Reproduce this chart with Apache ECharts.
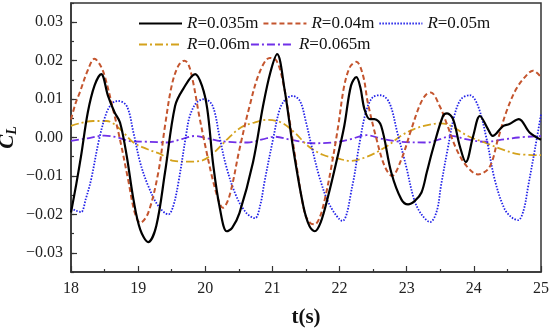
<!DOCTYPE html>
<html>
<head>
<meta charset="utf-8">
<script src="https://cdn.jsdelivr.net/npm/echarts@6/dist/echarts.min.js"></script>
<style>html,body{margin:0;padding:0;background:#fff;}#c{width:550px;height:332px;}</style>
</head>
<body>
<div id="c"></div>
<script>
// ---- data ----
var seriesNames = ['R=0.035m', 'R=0.04m', 'R=0.05m', 'R=0.06m', 'R=0.065m'];
var xTicks = [18, 19, 20, 21, 22, 23, 24, 25];
var yTicks = [-0.03, -0.02, -0.01, 0, 0.01, 0.02, 0.03];

var t035 = [18.00,18.08,18.15,18.25,18.35,18.45,18.55,18.65,18.73,18.83,18.93,19.03,19.15,19.27,19.40,19.55,19.67,19.85,19.95,20.03,20.12,20.22,20.32,20.40,20.51,20.71,20.86,20.97,21.07,21.18,21.31,21.46,21.55,21.63,21.72,21.83,21.95,22.07,22.17,22.25,22.31,22.37,22.45,22.52,22.62,22.77,22.92,23.02,23.12,23.22,23.30,23.39,23.54,23.60,23.69,23.79,23.88,23.99,24.09,24.21,24.28,24.43,24.53,24.67,24.83,25.00];
var cl035 = [-0.0195,-0.0120,-0.0048,0.0065,0.0135,0.0165,0.0109,0.0065,0.0039,-0.0048,-0.0161,-0.0239,-0.0272,-0.0230,-0.0091,0.0082,0.0126,0.0165,0.0135,0.0074,-0.0074,-0.0187,-0.0244,-0.0235,-0.0196,-0.0065,0.0082,0.0170,0.0217,0.0126,-0.0030,-0.0178,-0.0230,-0.0244,-0.0220,-0.0152,-0.0065,0.0030,0.0135,0.0157,0.0130,0.0074,0.0048,0.0048,0.0030,-0.0091,-0.0161,-0.0174,-0.0165,-0.0143,-0.0090,-0.0030,0.0056,0.0063,0.0048,-0.0022,-0.0064,0.0004,0.0056,0.0022,0.0004,0.0029,0.0035,0.0048,0.0013,-0.0006];

var t040 = [18.00,18.07,18.13,18.25,18.35,18.43,18.50,18.65,18.75,18.85,18.95,19.03,19.15,19.30,19.40,19.50,19.60,19.69,19.75,19.82,19.91,20.01,20.11,20.21,20.26,20.36,20.51,20.66,20.81,20.96,21.06,21.16,21.26,21.36,21.48,21.56,21.63,21.70,21.78,21.88,21.98,22.07,22.16,22.25,22.35,22.42,22.55,22.67,22.78,22.92,23.07,23.19,23.28,23.36,23.49,23.59,23.74,23.89,24.06,24.23,24.36,24.48,24.63,24.78,24.88,25.00];
var cl040 = [0.0047,0.0090,0.0117,0.0175,0.0205,0.0190,0.0161,0.0056,-0.0022,-0.0109,-0.0196,-0.0222,-0.0196,-0.0091,0.0030,0.0135,0.0187,0.0200,0.0190,0.0143,0.0056,-0.0030,-0.0109,-0.0170,-0.0183,-0.0152,-0.0030,0.0082,0.0170,0.0207,0.0200,0.0143,0.0039,-0.0074,-0.0196,-0.0222,-0.0226,-0.0210,-0.0161,-0.0074,0.0030,0.0135,0.0185,0.0197,0.0161,0.0091,-0.0004,-0.0074,-0.0100,-0.0057,0.0022,0.0082,0.0110,0.0117,0.0082,0.0039,-0.0030,-0.0074,-0.0096,-0.0078,-0.0004,0.0065,0.0126,0.0161,0.0174,0.0157];

var t050 = [18.00,18.07,18.15,18.22,18.30,18.42,18.53,18.62,18.70,18.83,18.93,19.03,19.15,19.30,19.45,19.52,19.60,19.72,19.77,19.87,19.99,20.11,20.21,20.31,20.46,20.61,20.74,20.82,20.88,21.01,21.11,21.20,21.30,21.41,21.50,21.58,21.71,21.86,22.04,22.19,22.29,22.39,22.49,22.61,22.74,22.86,22.99,23.11,23.22,23.35,23.45,23.51,23.61,23.71,23.81,23.94,24.06,24.19,24.31,24.46,24.58,24.66,24.74,24.81,24.91,25.00];
var cl050 = [-0.0183,-0.0190,-0.0194,-0.0160,-0.0109,-0.0004,0.0065,0.0090,0.0095,0.0082,0.0013,-0.0065,-0.0126,-0.0178,-0.0200,-0.0180,-0.0117,0.0013,0.0056,0.0091,0.0100,0.0082,0.0004,-0.0074,-0.0152,-0.0196,-0.0210,-0.0175,-0.0117,-0.0004,0.0074,0.0100,0.0108,0.0095,0.0040,-0.0020,-0.0109,-0.0178,-0.0217,-0.0126,-0.0022,0.0065,0.0104,0.0110,0.0091,0.0013,-0.0074,-0.0161,-0.0200,-0.0220,-0.0190,-0.0126,-0.0030,0.0057,0.0100,0.0110,0.0083,-0.0004,-0.0109,-0.0187,-0.0210,-0.0215,-0.0190,-0.0126,-0.0030,0.0060];

var t060 = [18.00,18.15,18.33,18.53,18.73,18.93,19.13,19.33,19.53,19.73,19.93,20.13,20.33,20.53,20.73,20.93,21.13,21.33,21.53,21.75,21.98,22.15,22.41,22.71,22.91,23.11,23.31,23.51,23.66,23.91,24.16,24.41,24.66,25.00];
var cl060 = [0.0030,0.0038,0.0043,0.0043,0.0022,-0.0013,-0.0030,-0.0043,-0.0061,-0.0063,-0.0061,-0.0039,-0.0004,0.0026,0.0039,0.0046,0.0039,0.0013,-0.0022,-0.0045,-0.0055,-0.0061,-0.0050,-0.0022,0.0004,0.0022,0.0032,0.0037,0.0030,0.0004,-0.0013,-0.0030,-0.0043,-0.0046];

var t065 = [18.00,18.25,18.50,18.70,18.90,19.13,19.43,19.65,19.85,20.05,20.25,20.63,20.85,21.03,21.25,21.40,21.60,21.90,22.15,22.40,22.65,22.91,23.31,23.50,23.66,23.90,24.16,24.45,24.66,25.00];
var cl065 = [-0.0009,-0.0002,0.0005,0.0000,-0.0010,-0.0011,-0.0013,-0.0004,0.0004,-0.0003,-0.0010,-0.0013,-0.0005,0.0002,-0.0005,-0.0010,-0.0015,-0.0013,-0.0005,0.0006,-0.0004,-0.0011,-0.0013,-0.0004,0.0004,-0.0005,-0.0011,-0.0005,0.0000,0.0004];

// ---- chart ----
function pairs(t, v) { return t.map(function (x, i) { return [x, v[i]]; }); }
var FONT = '"Liberation Serif", "Times New Roman", serif';
var styles = [
  { color: '#000000', width: 2.2, type: 'solid' },
  { color: '#c4552e', width: 2, type: [5, 3] },
  { color: '#2222e8', width: 1.8, type: [1.5, 1.5] },
  { color: '#d4a21c', width: 1.8, type: [8, 3, 2, 3] },
  { color: '#7030e8', width: 1.8, type: [8, 3, 2, 3] }
];
var tArr = [t035, t040, t050, t060, t065];
var vArr = [cl035, cl040, cl050, cl060, cl065];
var series = seriesNames.map(function (n, i) {
  return {
    name: n, type: 'line', xAxisIndex: 0, yAxisIndex: 0,
    data: pairs(tArr[i], vArr[i]),
    showSymbol: false, symbol: 'none', smooth: 0.35,
    lineStyle: styles[i], itemStyle: { color: styles[i].color },
    z: 10 - i
  };
});
function fmtY(v) {
  var s = Math.abs(v) < 1e-9 ? '0.00' : v.toFixed(2);
  return s.replace('-', '\u2212');
}
var legendText = {
  fontFamily: FONT, fontSize: 17, color: '#111',
  rich: { i: { fontFamily: FONT, fontSize: 17, fontStyle: 'italic', color: '#111' } }
};
function legFmt(n) { return '{i|R}' + n.slice(1); }
var option = {
  animation: false,
  backgroundColor: '#fff',
  grid: { left: 71, right: 9, top: 3, bottom: 60, containLabel: false, outerBoundsMode: 'none',
          show: true, borderColor: '#333', borderWidth: 1.5, backgroundColor: 'transparent' },
  legend: [
    { data: seriesNames.slice(0, 3), left: 138, top: 15, itemWidth: 43, itemHeight: 10, itemGap: 4,
      itemStyle: { opacity: 0 }, textStyle: legendText, formatter: legFmt, padding: 0 },
    { data: seriesNames.slice(3), left: 138, top: 36, itemWidth: 43, itemHeight: 10, itemGap: 0,
      itemStyle: { opacity: 0 }, textStyle: legendText, formatter: legFmt, padding: 0 }
  ],
  xAxis: [{
    type: 'value', min: xTicks[0], max: xTicks[xTicks.length - 1], interval: 1,
    axisLine: { show: true, onZero: false, lineStyle: { color: '#333', width: 1.5 } },
    axisTick: { show: true, inside: true, length: 6, lineStyle: { color: '#333', width: 1.2 } },
    minorTick: { show: true, splitNumber: 2, length: 3, lineStyle: { color: '#333', width: 1.2 } },
    splitLine: { show: false },
    axisLabel: { fontFamily: FONT, fontSize: 16, color: '#222', margin: 9 },
    name: 't(s)', nameLocation: 'middle', nameGap: 35, nameMoveOverlap: false,
    nameTextStyle: { fontFamily: FONT, fontSize: 21, fontWeight: 'bold', color: '#111' }
  }],
  yAxis: [{
    type: 'value', min: -0.035, max: 0.035, interval: 0.005,
    axisLine: { show: true, onZero: false, lineStyle: { color: '#333', width: 1.5 } },
    axisTick: { show: true, inside: true, length: 3, lineStyle: { color: '#333', width: 1.2 } },
    splitLine: { show: false },
    axisLabel: { customValues: yTicks, formatter: fmtY, fontFamily: FONT, fontSize: 16, color: '#222', margin: 8 },
    name: '{c|C}{s|L}', nameLocation: 'middle', nameGap: 52, nameRotate: 90, nameMoveOverlap: false,
    nameTextStyle: { rich: {
      c: { fontFamily: FONT, fontSize: 21, fontWeight: 'bold', fontStyle: 'italic', color: '#111' },
      s: { fontFamily: FONT, fontSize: 14, fontWeight: 'bold', fontStyle: 'italic', color: '#111', padding: [8, 0, 0, 0] }
    } }
  }, {
    type: 'value', min: -0.035, max: 0.035, position: 'left', offset: 0,
    axisLine: { show: false, onZero: false },
    axisTick: { show: true, inside: true, length: 6, customValues: yTicks, lineStyle: { color: '#333', width: 1.2 } },
    axisLabel: { show: false },
    splitLine: { show: false }
  }],
  series: series
};
var chart = echarts.init(document.getElementById('c'), null, { renderer: 'canvas' });
chart.setOption(option);
</script>
</body>
</html>
